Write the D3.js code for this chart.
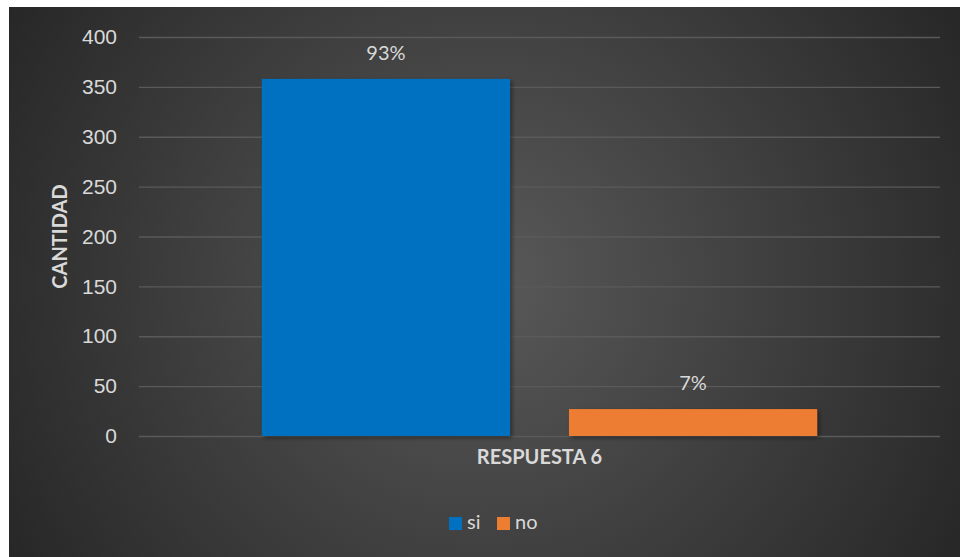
<!DOCTYPE html>
<html>
<head>
<meta charset="utf-8">
<script src="https://cdn.jsdelivr.net/npm/d3@7"></script>
<style>
  body { margin: 0; background: #fff; }
  svg { display: block; font-family: Lato, "Open Sans", sans-serif; }
</style>
</head>
<body>
<div id="chart"></div>
<script>
const categories = ["si", "no"];
const values = [358, 27];
const pctLabels = ["93%", "7%"];
const colors = ["#0070c0", "#ed7d31"];
const yTicks = [0, 50, 100, 150, 200, 250, 300, 350, 400];
const xTitle = "RESPUESTA 6";
const yTitle = "CANTIDAD";

const W = 960, H = 557;
const margin = { top: 37, right: 20, bottom: 121, left: 139 };
const width = W - margin.left - margin.right,
      height = H - margin.top - margin.bottom;

const svg = d3.select("#chart").append("svg")
  .attr("width", W)
  .attr("height", H);

const defs = svg.append("defs");
const grad = defs.append("radialGradient")
  .attr("id", "bg")
  .attr("gradientUnits", "userSpaceOnUse")
  .attr("cx", 484).attr("cy", 282).attr("r", 560);
grad.append("stop").attr("offset", "0%").attr("stop-color", "#595959");
grad.append("stop").attr("offset", "100%").attr("stop-color", "#262626");

const shadow = defs.append("filter").attr("id", "shadow")
  .attr("x", "-10%").attr("y", "-10%").attr("width", "130%").attr("height", "130%");
shadow.append("feDropShadow")
  .attr("dx", 2).attr("dy", 2).attr("stdDeviation", 2)
  .attr("flood-color", "#000").attr("flood-opacity", 0.45);

// fondo del grafico
svg.append("rect")
  .attr("x", 9).attr("y", 7)
  .attr("width", W - 9).attr("height", H - 7)
  .attr("fill", "url(#bg)");

const g = svg.append("g")
  .attr("transform", `translate(${margin.left},${margin.top})`);

const y = d3.scaleLinear().domain([0, 400]).range([height, 0]);

const x = d3.scaleBand()
  .domain(categories)
  .range([0, width])
  .paddingInner(0.192)
  .paddingOuter(0.4);

// grid
g.append("g")
  .call(d3.axisLeft(y).tickValues(yTicks).tickSize(-width).tickFormat(""))
  .call(a => a.select(".domain").remove())
  .call(a => a.selectAll(".tick line").attr("stroke", "#5a5a5a").attr("stroke-width", 1.3));

// eje y labels
g.append("g")
  .call(d3.axisLeft(y).tickValues(yTicks).tickSize(0).tickPadding(22))
  .call(a => a.select(".domain").remove())
  .call(a => a.selectAll("text")
    .attr("fill", "#d9d9d9")
    .style("font-size", "21px"));

// barras
g.selectAll(".bar")
  .data(values)
  .enter()
  .append("rect")
  .attr("x", (d, i) => x(categories[i]))
  .attr("y", d => y(d))
  .attr("width", x.bandwidth())
  .attr("height", d => height - y(d))
  .attr("fill", (d, i) => colors[i])
  .attr("filter", "url(#shadow)");

g.selectAll(".lbl")
  .data(values)
  .enter()
  .append("text")
  .attr("x", (d, i) => x(categories[i]) + x.bandwidth() / 2)
  .attr("y", d => y(d) - 19)
  .attr("text-anchor", "middle")
  .attr("fill", "#d9d9d9")
  .style("font-size", "20px")
  .text((d, i) => pctLabels[i]);

// titulos
g.append("text")
  .attr("x", width / 2)
  .attr("y", height + 28)
  .attr("text-anchor", "middle")
  .attr("fill", "#d9d9d9")
  .style("font-size", "20px")
  .style("font-weight", "bold")
  .text(xTitle);

g.append("text")
  .attr("transform", "rotate(-90)")
  .attr("x", -(y(200)))
  .attr("y", -72)
  .attr("text-anchor", "middle")
  .attr("fill", "#d9d9d9")
  .style("font-size", "20px")
  .style("font-weight", "bold")
  .text(yTitle);

// leyenda
const legend = svg.append("g").attr("transform", "translate(449,517)");
const items = [{ x: 0 }, { x: 48 }];
categories.forEach((c, i) => {
  const it = legend.append("g").attr("transform", `translate(${items[i].x},0)`);
  it.append("rect").attr("width", 13).attr("height", 13).attr("fill", colors[i]);
  it.append("text")
    .attr("x", 18).attr("y", 12)
    .attr("fill", "#d9d9d9")
    .style("font-size", "20px")
    .text(c);
});
</script>
</body>
</html>
